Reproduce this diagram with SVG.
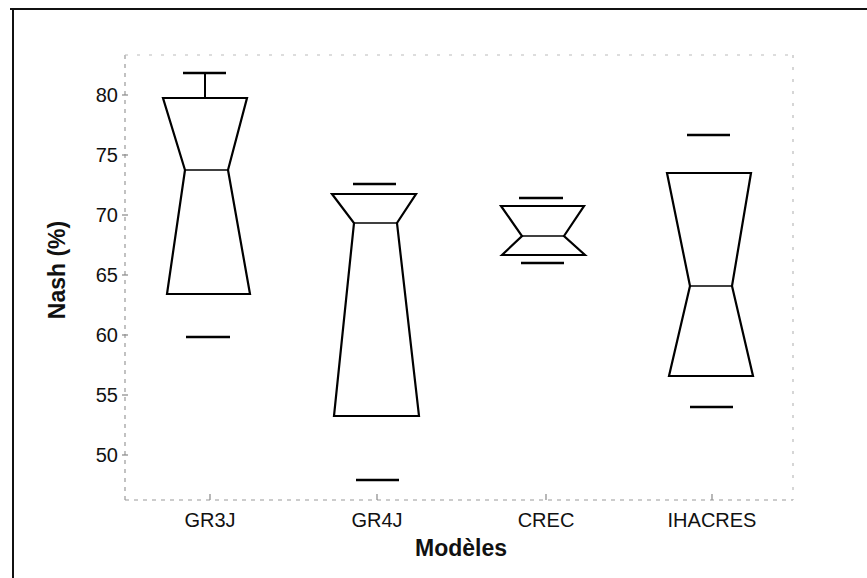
<svg xmlns="http://www.w3.org/2000/svg" width="867" height="578" viewBox="0 0 867 578">
<style>
.frame{stroke:#111;stroke-width:2;fill:none}
.axis{stroke:#999;stroke-width:1.2;fill:none;stroke-dasharray:4 5}
.axisfaint{stroke:#bbb;stroke-width:1.2;fill:none;stroke-dasharray:3 9}
.tick{stroke:#888;stroke-width:1.2}
.box{fill:#fff;stroke:#000;stroke-width:2.2;stroke-linejoin:miter}
.med{stroke:#000;stroke-width:1.6}
.cap{stroke:#000;stroke-width:2.6}
.whisk{stroke:#000;stroke-width:2}
.ylab{font-family:"Liberation Sans",Arial,sans-serif;font-size:20px;fill:#111;text-anchor:end}
.xlab{font-family:"Liberation Sans",Arial,sans-serif;font-size:20px;fill:#111;text-anchor:middle}
.title{font-family:"Liberation Sans",Arial,sans-serif;font-size:23px;font-weight:bold;fill:#111;text-anchor:middle}
</style>
<rect x="0" y="0" width="867" height="578" fill="#fff"/>
<g id="frame">
<line class="frame" x1="10" y1="9" x2="867" y2="9"/>
<line class="frame" x1="13" y1="9" x2="13" y2="578"/>
</g>
<g id="axes">
<line class="axis" x1="125" y1="55" x2="125" y2="500"/>
<line class="axis" x1="125" y1="500" x2="793" y2="500"/>
<line class="axisfaint" x1="125" y1="55" x2="793" y2="55"/>
<line class="axisfaint" x1="793" y1="55" x2="793" y2="500"/>
<g class="tick">
<line x1="122" y1="95" x2="128" y2="95"/>
<line x1="122" y1="155" x2="128" y2="155"/>
<line x1="122" y1="215" x2="128" y2="215"/>
<line x1="122" y1="275" x2="128" y2="275"/>
<line x1="122" y1="335" x2="128" y2="335"/>
<line x1="122" y1="395" x2="128" y2="395"/>
<line x1="122" y1="455" x2="128" y2="455"/>
<line x1="210" y1="494" x2="210" y2="500"/>
<line x1="377" y1="494" x2="377" y2="500"/>
<line x1="546" y1="494" x2="546" y2="500"/>
<line x1="712" y1="494" x2="712" y2="500"/>
</g>
<text class="ylab" x="118" y="102">80</text>
<text class="ylab" x="118" y="162">75</text>
<text class="ylab" x="118" y="222">70</text>
<text class="ylab" x="118" y="282">65</text>
<text class="ylab" x="118" y="342">60</text>
<text class="ylab" x="118" y="402">55</text>
<text class="ylab" x="118" y="462">50</text>
<text class="xlab" x="210" y="527">GR3J</text>
<text class="xlab" x="377" y="527">GR4J</text>
<text class="xlab" x="546" y="527">CREC</text>
<text class="xlab" x="712" y="527">IHACRES</text>
<text class="title" x="461" y="556">Modèles</text>
<text class="title" transform="translate(65,270) rotate(-90)" x="0" y="0">Nash (%)</text>
</g>
<g id="GR3J">
<line class="whisk" x1="205" y1="73" x2="205" y2="98"/>
<line class="cap" x1="183" y1="73" x2="226" y2="73"/>
<polygon class="box" points="163,98 247,98 228,170 250,294 167,294 185,170"/>
<line class="med" x1="185" y1="170" x2="228" y2="170"/>
<line class="cap" x1="186" y1="337" x2="230" y2="337"/>
</g>
<g id="GR4J">
<line class="cap" x1="353" y1="184" x2="396" y2="184"/>
<polygon class="box" points="332,194 416,194 397,223 419,416 334,416 354,223"/>
<line class="med" x1="354" y1="223" x2="397" y2="223"/>
<line class="cap" x1="356" y1="480" x2="399" y2="480"/>
</g>
<g id="CREC">
<line class="cap" x1="519" y1="198" x2="563" y2="198"/>
<polygon class="box" points="501,206 584,206 564,236 585,255 502,255 522,236"/>
<line class="med" x1="522" y1="236" x2="564" y2="236"/>
<line class="cap" x1="521" y1="263" x2="564" y2="263"/>
</g>
<g id="IHACRES">
<line class="cap" x1="687" y1="135" x2="730" y2="135"/>
<polygon class="box" points="667,173 751,173 732,286 753,376 669,376 690,286"/>
<line class="med" x1="690" y1="286" x2="732" y2="286"/>
<line class="cap" x1="690" y1="407" x2="733" y2="407"/>
</g>
</svg>
